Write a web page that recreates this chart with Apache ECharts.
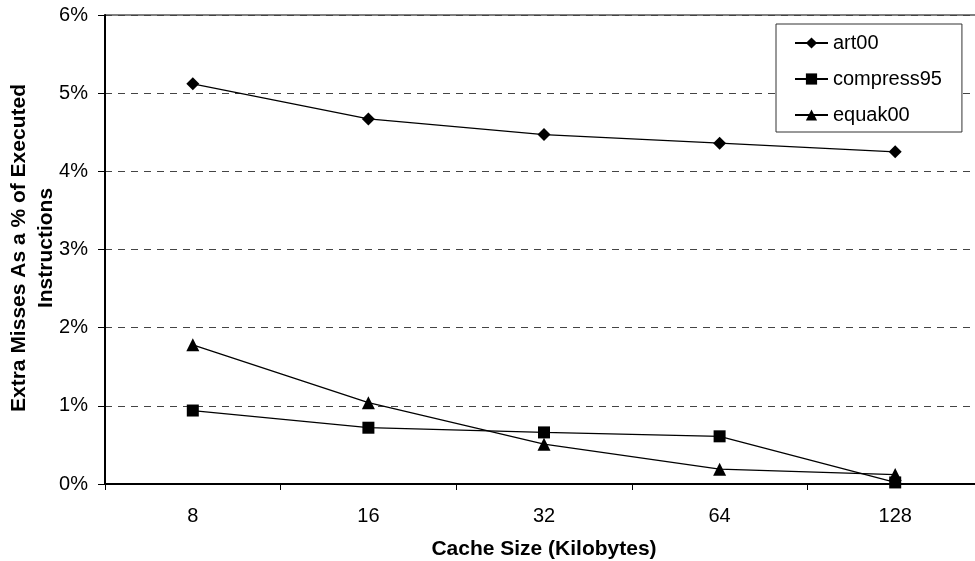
<!DOCTYPE html>
<html>
<head>
<meta charset="utf-8">
<script src="https://cdn.jsdelivr.net/npm/echarts@6/dist/echarts.min.js"></script>
<style>
html,body{margin:0;padding:0;background:#fff;}
#chart{width:975px;height:561px;}
</style>
</head>
<body>
<div id="chart"></div>
<script>
const categories = ['8', '16', '32', '64', '128'];
const art00 = [5.12, 4.67, 4.47, 4.36, 4.25];
const compress95 = [0.94, 0.72, 0.66, 0.61, 0.02];
const equak00 = [1.78, 1.04, 0.51, 0.19, 0.12];
const yTicks = [0, 1, 2, 3, 4, 5, 6];
const yTitle = 'Extra Misses As a % of Executed\nInstructions';
const xTitle = 'Cache Size (Kilobytes)';

const FONT = 'Liberation Sans, Arial, sans-serif';
const chart = echarts.init(document.getElementById('chart'), null, {renderer: 'canvas'});

function mkSeries(name, data, symbol, size) {
  return {
    name: name,
    type: 'line',
    data: data,
    symbol: symbol,
    symbolSize: size,
    showAllSymbol: true,
    itemStyle: {color: '#000'},
    lineStyle: {color: '#000', width: 1.3},
    emphasis: {disabled: true},
    animation: false,
    z: 3
  };
}

chart.setOption({
  backgroundColor: '#fff',
  animation: false,
  textStyle: {fontFamily: FONT},
  grid: {
    left: 105, right: -8, top: 15, bottom: 77,
    containLabel: false,
    outerBoundsMode: 'none',
    show: true, borderColor: '#000', borderWidth: 1, backgroundColor: 'transparent'
  },
  graphic: [{
    type: 'text',
    x: 32.5, y: 248,
    rotation: Math.PI / 2,
    style: {
      text: yTitle,
      fontFamily: FONT, fontSize: 21, fontWeight: 'bold', fill: '#000',
      lineHeight: 27, align: 'center', verticalAlign: 'middle'
    }
  }],
  legend: {
    orient: 'vertical',
    left: 776, top: 24,
    padding: [9, 20, 7, 18],
    itemGap: 16,
    itemWidth: 33,
    itemHeight: 14,
    backgroundColor: '#fff',
    borderColor: '#333',
    borderWidth: 1,
    textStyle: {fontFamily: FONT, fontSize: 20, color: '#000', lineHeight: 20},
    data: ['art00', 'compress95', 'equak00']
  },
  xAxis: {
    type: 'category',
    data: categories,
    boundaryGap: true,
    name: xTitle,
    nameLocation: 'middle',
    nameGap: 55,
    nameTextStyle: {fontFamily: FONT, fontSize: 21, fontWeight: 'bold', color: '#000'},
    axisLine: {show: true, lineStyle: {color: '#000', width: 2}},
    axisTick: {show: true, inside: false, length: 6, lineStyle: {color: '#000', width: 1}},
    axisLabel: {fontFamily: FONT, fontSize: 20, color: '#000', margin: 22},
    splitLine: {show: false}
  },
  yAxis: {
    type: 'value',
    min: yTicks[0],
    max: yTicks[yTicks.length - 1],
    interval: 1,
    axisLine: {show: true, lineStyle: {color: '#000', width: 2}},
    axisTick: {show: true, inside: false, length: 7, lineStyle: {color: '#000', width: 1}},
    axisLabel: {fontFamily: FONT, fontSize: 20, color: '#000', margin: 17, formatter: '{value}%'},
    splitLine: {show: true, lineStyle: {color: '#444', width: 1, type: [7, 6]}}
  },
  series: [
    mkSeries('art00', art00, 'diamond', 13),
    mkSeries('compress95', compress95, 'rect', 12),
    mkSeries('equak00', equak00, 'triangle', 13)
  ]
});
</script>
</body>
</html>
